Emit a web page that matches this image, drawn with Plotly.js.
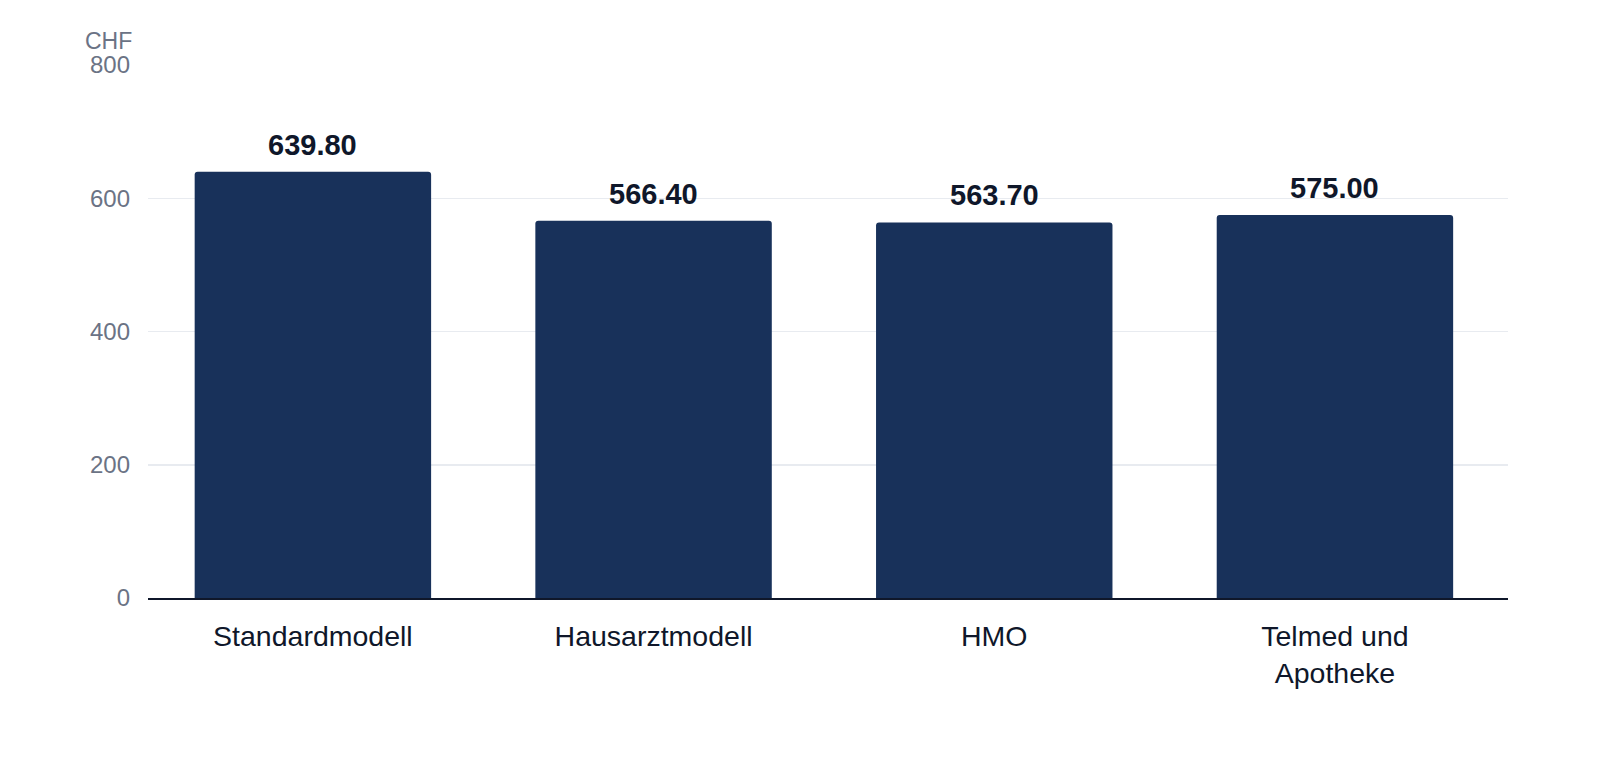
<!DOCTYPE html>
<html>
<head>
<meta charset="utf-8">
<script src="https://cdn.plot.ly/plotly-3.0.1.min.js"></script>
<style>
  html, body { margin: 0; padding: 0; background: #fff; }
  #chart { width: 1600px; height: 760px; }
</style>
</head>
<body>
<div id="chart"></div>
<script>
// premium per model (CHF)
var models = ['Standardmodell', 'Hausarztmodell', 'HMO', 'Telmed und<br>Apotheke'];
var premiums = [639.80, 566.40, 563.70, 575.00];
var yTicks = [0, 200, 400, 600, 800];

var barColor = '#18315a';
var font = 'Liberation Sans, Arial, Helvetica, sans-serif';

var data = [{
    type: 'bar',
    x: models,
    y: premiums,
    marker: { color: barColor },
    hoverinfo: 'x+y'
}];

// value labels above bars
var labels = [];
for (var i = 0; i < models.length; i++) {
    labels.push({
        x: models[i],
        y: premiums[i],
        xref: 'x', yref: 'y',
        text: premiums[i].toFixed(2),
        showarrow: false,
        xanchor: 'center', yanchor: 'bottom',
        yshift: 9,
        font: { family: font, size: 29, color: '#0f172a', weight: 'bold' }
    });
}

// unit label above the y axis
labels.push({
    text: 'CHF',
    xref: 'paper', yref: 'paper',
    x: 0, y: 1,
    xanchor: 'right', yanchor: 'bottom',
    xshift: -15, yshift: 10,
    borderpad: 0,
    showarrow: false,
    font: { family: font, size: 23, color: '#6b7385' }
});

var layout = {
    width: 1600,
    height: 760,
    margin: { l: 148, r: 92, t: 65, b: 162 },
    paper_bgcolor: '#fff',
    plot_bgcolor: '#fff',
    bargap: 0.306,
    barcornerradius: 3,
    showlegend: false,
    font: { family: font },
    xaxis: {
        type: 'category',
        range: [-0.484, 3.508],
        showgrid: false,
        showline: true,
        linecolor: '#0f172a',
        linewidth: 2,
        ticks: '',
        ticklabelstandoff: 12,
        tickfont: { family: font, size: 28.5, color: '#0f172a' }
    },
    yaxis: {
        range: [0, 800],
        tickvals: yTicks,
        showgrid: true,
        gridcolor: '#e8ebf0',
        gridwidth: 1.5,
        zeroline: false,
        ticks: '',
        ticklabelstandoff: 17,
        tickfont: { family: font, size: 24, color: '#6b7385' }
    },
    annotations: labels
};

Plotly.newPlot('chart', data, layout, { displayModeBar: false, staticPlot: true });
</script>
</body>
</html>
